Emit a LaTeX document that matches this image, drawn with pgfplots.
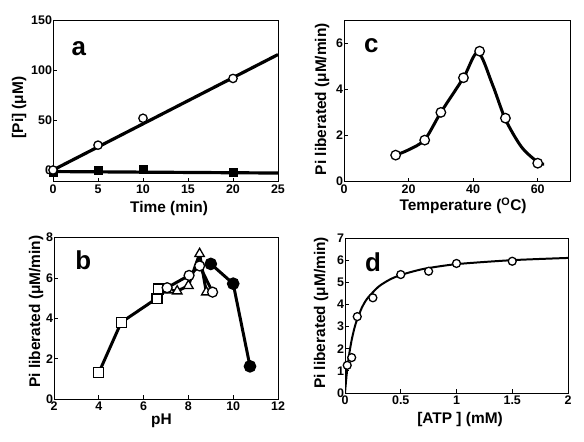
\documentclass[border=0pt]{standalone}
\usepackage{fontspec}
\setmainfont{Liberation Sans}
\usepackage{pgfplots}
\pgfplotsset{compat=1.18}
\tikzset{letter/.style={font=\bfseries\fontsize{26}{26}\selectfont, anchor=base west}}
\pgfplotsset{
  panel/.style={
    scale only axis,
    axis line style={line width=1pt},
    tick align=inside,
    xtick pos=bottom, ytick pos=left,
    major tick length=4pt,
    tick style={line width=0.8pt,black},
    tick label style={font=\bfseries\fontsize{12.5}{13}\selectfont},
    yticklabel style={inner xsep=0.8pt},
    xticklabel style={inner ysep=2.5pt},
    label style={font=\bfseries\fontsize{15.5}{16}\selectfont, inner sep=0pt},
    /pgf/number format/assume math mode=true,
  },
  ocirc/.style={mark=*, mark options={fill=white, draw=black, line width=1.3pt}},
}
\begin{document}
\begin{tikzpicture}
\path[use as bounding box] (0,0) rectangle (584bp,442bp);
% ---------------- panel a
\begin{axis}[panel, at={(53bp,260bp)}, anchor=south west,
  width=225bp, height=161.3bp,
  xmin=0, xmax=25, ymin=-12, ymax=150,
  xtick={0,5,...,25}, ytick={0,50,100,150},
  yticklabels={{0\hspace{8pt}},50,100,150},
  xlabel={Time (min)}, ylabel={[Pi] (μM)},
  xlabel style={at={(axis description cs:0.516,-0.192)}, anchor=base},
  ylabel style={at={(axis description cs:-0.151,0.462)}, anchor=center},
]
\addplot[line width=3.2pt, black] coordinates {(0,0) (25,116)};
\addplot[line width=3.2pt, black] coordinates {(0,-1.5) (25,-3)};
\addplot[only marks, mark=square*, mark size=4pt, black] coordinates {(0,-2) (5,0) (10,0.5) (20,-2)};
\addplot[only marks, ocirc, mark size=4.2pt] coordinates {(0,0) (5,25) (10,52) (20,92)};
\node[letter] at (axis description cs:0.067,0.787) {a};
\end{axis}
% ---------------- panel c
\begin{axis}[panel, at={(344bp,260.3bp)}, anchor=south west,
  width=226bp, height=161.7bp,
  xmin=0, xmax=70, ymin=0, ymax=7,
  xtick={0,20,40,60}, ytick={0,2,4,6},
  xlabel={Temperature (\textsuperscript{O}C)}, ylabel={Pi liberated (μM/min)},
  xlabel style={at={(axis description cs:0.527,-0.178)}, anchor=base},
  ylabel style={at={(axis description cs:-0.097,0.511)}, anchor=center},
]
\addplot[line width=3pt, black, smooth, tension=0.5] coordinates {
  (16,1.15) (20,1.38) (25,1.82) (30,3.0) (37,4.5) (41.5,5.6) (46,4.2) (50,2.7) (55,1.5) (60,0.85) (62,0.76)};
\addplot[only marks, ocirc, mark size=4.8pt] coordinates {
  (16,1.15) (25,1.8) (30,3.0) (37,4.5) (42,5.65) (50,2.75) (60,0.8)};
\node[letter] at (axis description cs:0.074,0.796) {c};
\end{axis}
% ---------------- panel b
\begin{axis}[panel, at={(54bp,43bp)}, anchor=south west,
  width=224bp, height=161.3bp,
  xmin=2, xmax=12, ymin=0, ymax=8,
  xtick={2,4,...,12}, ytick={0,2,...,8},
  xlabel={pH}, ylabel={Pi liberated (μM/min)},
  xlabel style={at={(axis description cs:0.48,-0.161)}, anchor=base},
  ylabel style={at={(axis description cs:-0.08,0.542)}, anchor=center},
]
\addplot[line width=3pt, black, mark=square*, mark size=5pt, mark options={fill=white, draw=black, line width=1.3pt}]
  coordinates {(4,1.3) (5,3.8) (6.6,5.0) (6.65,5.46)};
\addplot[line width=3pt, black, mark=triangle*, mark size=5.5pt, mark options={fill=white, draw=black, line width=1.3pt}]
  coordinates {(7.15,5.4) (7.5,5.35) (8,5.62) (8.5,7.2) (8.8,5.3)};
\addplot[line width=3pt, black, ocirc, mark size=5pt]
  coordinates {(7.05,5.52) (8.03,6.13) (8.5,6.6) (9.08,5.3)};
\addplot[line width=3pt, black, mark=*, mark size=4.8pt]
  coordinates {(9.0,6.7) (10.0,5.72) (10.75,1.62)};
\node[letter] at (axis description cs:0.08,0.80) {b};
\end{axis}
% ---------------- panel d
\begin{axis}[panel, at={(345bp,49bp)}, anchor=south west,
  width=223bp, height=155bp,
  xmin=0, xmax=2, ymin=0, ymax=7,
  xtick={0,0.5,1,1.5,2}, ytick={0,1,...,7},
  xlabel={[ATP ] (mM)}, ylabel={Pi liberated (μM/min)},
  xlabel style={at={(axis description cs:0.516,-0.2)}, anchor=base},
  ylabel style={at={(axis description cs:-0.107,0.516)}, anchor=center},
]
\addplot[line width=2pt, black, smooth, tension=0.4] coordinates {
  (0,0) (0.01,0.58) (0.02,1.07) (0.04,1.83) (0.06,2.4) (0.08,2.84) (0.1,3.2) (0.15,3.84)
  (0.2,4.27) (0.3,4.8) (0.4,5.12) (0.5,5.33) (0.7,5.6) (1.0,5.82) (1.5,6.0) (2.0,6.1)};
\addplot[only marks, ocirc, mark size=4pt] coordinates {
  (0.02,1.25) (0.06,1.6) (0.11,3.45) (0.25,4.3) (0.5,5.35) (0.75,5.5) (1.0,5.85) (1.5,5.95)};
\node[letter] at (axis description cs:0.075,0.787) {d};
\end{axis}
\end{tikzpicture}
\end{document}
